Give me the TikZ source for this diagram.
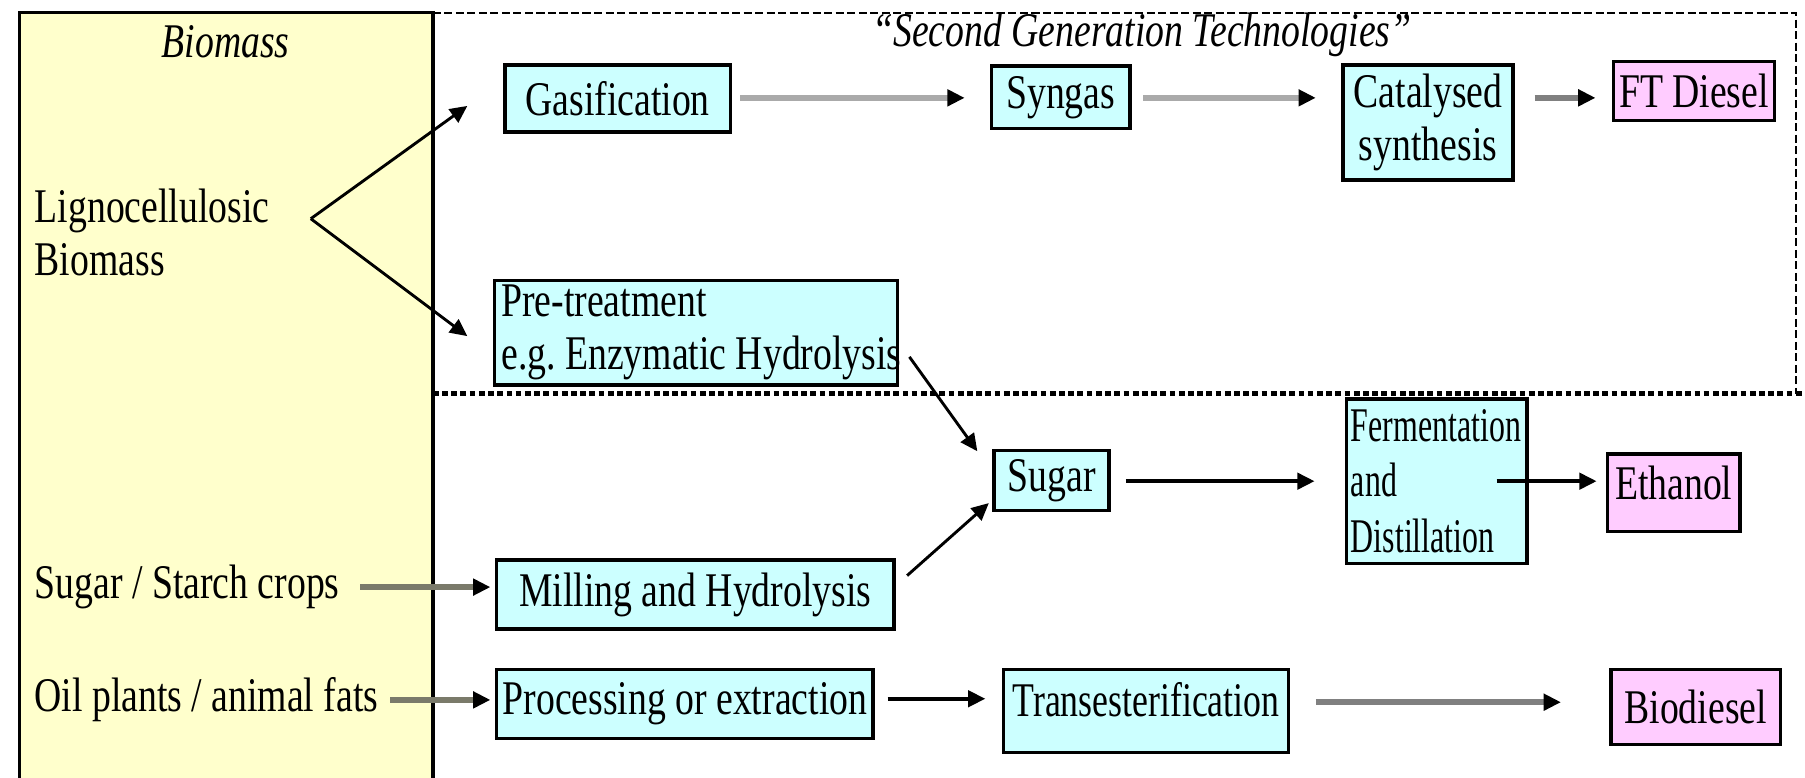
\documentclass[tikz,border=0pt]{standalone}
\usepackage{fontspec}
\setmainfont{Liberation Serif}[FakeStretch=0.78]
\newfontfamily\narrowserif{Liberation Serif}[FakeStretch=0.66]
\newfontfamily\midserif{Liberation Serif}[FakeStretch=0.74]
\usetikzlibrary{arrows.meta}
\definecolor{cyanbox}{HTML}{CCFFFF}
\definecolor{pinkbox}{HTML}{FFCCFF}
\definecolor{yellowbox}{HTML}{FFFFCC}
\definecolor{lgray}{HTML}{AAAAAA}
\definecolor{mgray}{HTML}{808080}
\definecolor{ogray}{HTML}{7A7A6A}
\frenchspacing
\begin{document}
\begin{tikzpicture}[x=1pt,y=-1pt,
  every node/.style={font=\fontsize{42}{46}\selectfont},
  cbox/.style={draw=black, line width=3pt, fill=cyanbox, inner sep=0pt, anchor=north west},
  pbox/.style={cbox, fill=pinkbox},
  tip/.style={-{Triangle[length=15pt,width=14pt,color=black]}},
  barrow/.style={tip, draw=black, line width=3.5pt},
  thinarrow/.style={tip, draw=black, line width=2.5pt},
  garrow/.style={tip, draw=lgray, line width=5pt},
  darrow/.style={tip, draw=mgray, line width=5pt},
  oarrow/.style={tip, draw=ogray, line width=5pt}]
\useasboundingbox (0,0) rectangle (1568,675);
% biomass panel
\fill[yellowbox] (17,11) rectangle (376,690);
\draw[line width=3pt] (17,690) -- (17,11) -- (376,11) -- (376,690);
% second generation region
\draw[line width=2pt, dash pattern=on 7pt off 3pt] (376,11) -- (1560,11) -- (1560,342);
\draw[line width=4.5pt, dash pattern=on 5pt off 3pt] (376,342) -- (1568,342);
\node[font=\fontsize{42}{46}\selectfont\itshape] (bt) at (196,36) {Biomass};
\node[font=\fontsize{42}{46}\selectfont\itshape] (sgt) at (992,30) {“Second Generation Technologies”};
% left texts
\node[anchor=west, align=left, inner sep=0pt] (lig) at (30,202) {Lignocellulosic\\Biomass};
\node[anchor=west, inner sep=0pt] (ssc) at (30,510) {Sugar / Starch crops};
\node[anchor=west, inner sep=0pt] (oil) at (30,608) {Oil plants / animal fats};
% boxes
\node[cbox, minimum width=196pt, minimum height=58pt] (gas) at (437,55) {Gasification};
\node[cbox, minimum width=120pt, minimum height=54pt] (syn) at (860,56) {Syngas};
\node[cbox, minimum width=148pt, minimum height=100pt, align=center] (cat) at (1165,55) {Catalysed\\synthesis};
\node[pbox, minimum width=140pt, minimum height=51pt] (ft) at (1400,52) {FT Diesel};
\node[cbox, minimum width=350pt, minimum height=91pt, inner xsep=6pt, align=left] (pre) at (428,242) {\makebox[338pt][l]{Pre-treatment}\\\makebox[338pt][l]{e.g. Enzymatic Hydrolysis}};
\node[cbox, minimum width=100pt, minimum height=52pt] (sug) at (862,390) {Sugar};
\node[cbox, minimum width=157pt, minimum height=143pt, text width=149pt, inner xsep=4pt, align=left, font=\narrowserif\fontsize{42}{46}\selectfont] (fer) at (1168,345) {Fermentation\\[2pt]and\\[2pt]Distillation};
\node[pbox, minimum width=115pt, text height=39pt, text depth=28pt] (eth) at (1395,393) {Ethanol};
\node[cbox, minimum width=345pt, minimum height=60pt] (mil) at (430,485) {Milling and Hydrolysis};
\node[cbox, minimum width=327pt, minimum height=60pt] (pro) at (430,580) {Processing or extraction};
\node[cbox, minimum width=248pt, text height=41pt, text depth=31pt, font=\midserif\fontsize{42}{46}\selectfont] (tra) at (870,580) {Transesterification};
\node[pbox, minimum width=147pt, minimum height=65pt] (bio) at (1398,580) {Biodiesel};
% connectors
\coordinate (fork) at (270,190);
\coordinate (gtip) at (406,92);
\coordinate (ptip) at (406,292);
\draw[thinarrow] (fork) -- (gtip);
\draw[thinarrow] (fork) -- (ptip);
\draw[garrow, shorten <=7pt, shorten >=22pt] (gas.east |- 0,85) -- (syn.west |- 0,85);
\draw[garrow, shorten <=10pt, shorten >=22pt] (syn.east |- 0,85) -- (cat.west |- 0,85);
\draw[darrow, shorten <=17pt, shorten >=14pt] (cat.east |- 0,85) -- (ft.west |- 0,85);
\coordinate (pres) at (790,310);
\coordinate (pree) at (849,392);
\draw[thinarrow] (pres) -- (pree);
\coordinate (mils) at (788,500);
\coordinate (mile) at (859,437);
\draw[thinarrow] (mils) -- (mile);
\draw[barrow, shorten <=13pt, shorten >=26pt] (sug.east |- 0,418) -- (fer.west |- 0,418);
\coordinate (ferin) at (1300,418);
\draw[barrow, shorten >=8pt] (ferin) -- (eth.west |- 0,418);
\draw[oarrow, shorten <=18pt, shorten >=4pt] (ssc.east |- 0,510) -- (mil.west |- 0,510);
\draw[oarrow, shorten <=10pt, shorten >=4pt] (oil.east |- 0,608) -- (pro.west |- 0,608);
\draw[barrow, shorten <=11pt, shorten >=14pt] (pro.east |- 0,607) -- (tra.west |- 0,607);
\draw[darrow, shorten <=22pt, shorten >=42pt] (tra.east |- 0,610) -- (bio.west |- 0,610);
\end{tikzpicture}
\end{document}
